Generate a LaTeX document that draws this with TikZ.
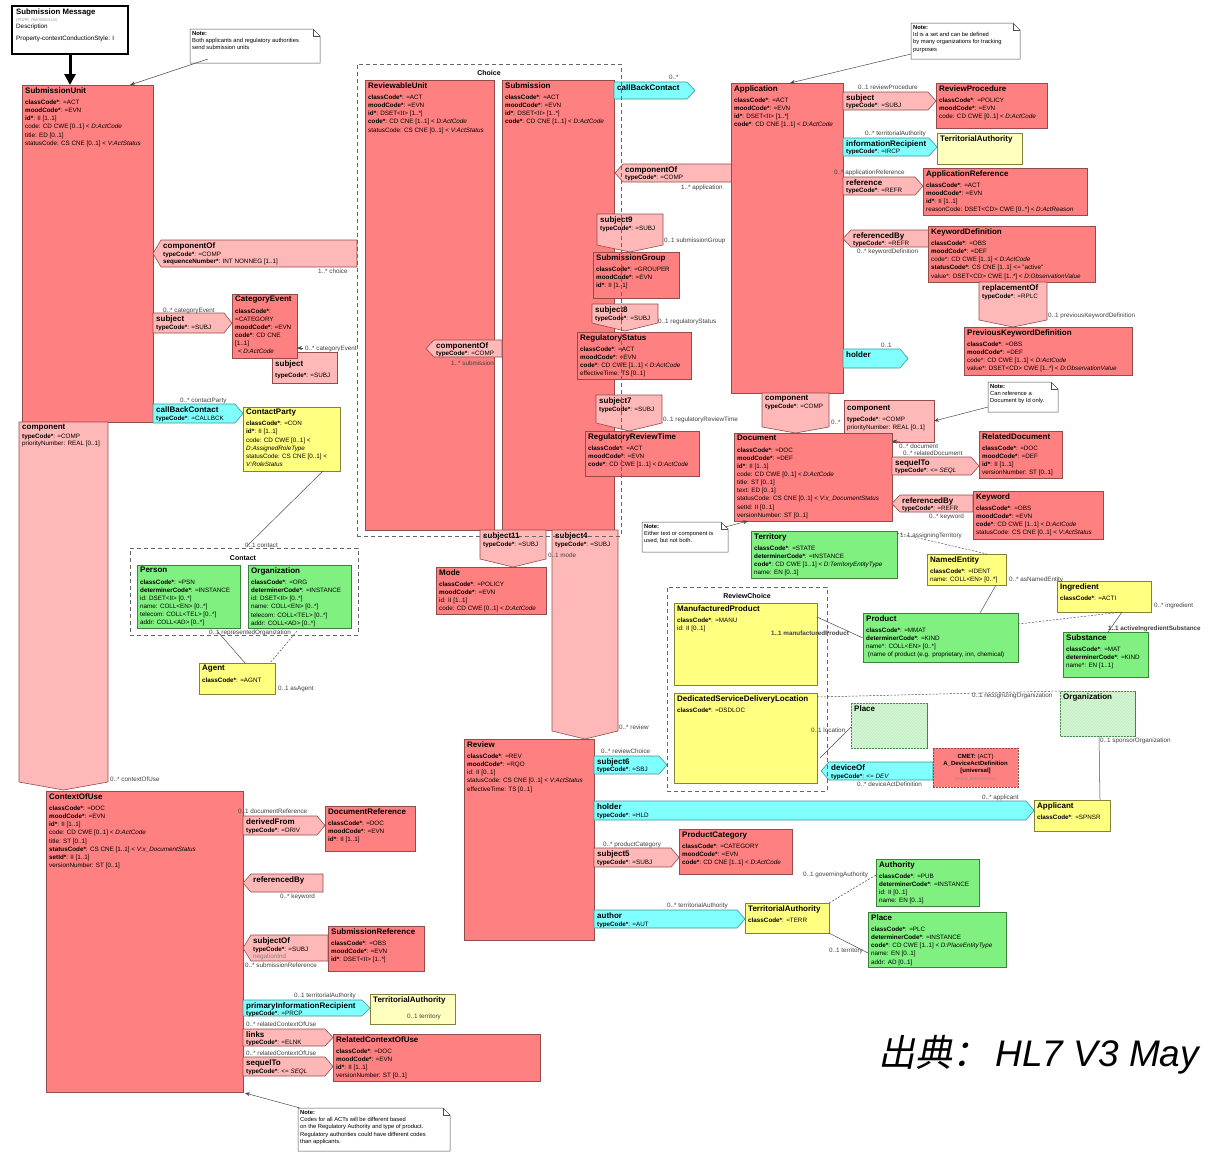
\documentclass[tikz,border=0pt]{standalone}
\usepackage{fontspec}
\setmainfont{Liberation Sans}
\newfontfamily\cjkf[FakeSlant=0.2]{Noto Sans CJK SC}
\usetikzlibrary{calc,arrows.meta,patterns}
\definecolor{actc}{RGB}{255,128,128}
\definecolor{actd}{RGB}{150,75,75}
\definecolor{relc}{RGB}{255,184,184}
\definecolor{parc}{RGB}{128,255,255}
\definecolor{pard}{RGB}{60,150,150}
\definecolor{rolc}{RGB}{255,255,128}
\definecolor{rold}{RGB}{130,130,60}
\definecolor{entc}{RGB}{128,240,128}
\definecolor{entd}{RGB}{60,130,60}
\definecolor{ltg}{RGB}{196,240,196}
\definecolor{lty}{RGB}{255,255,190}
\newcommand\Bb[1]{\textbf{#1}}
\newcommand\Ii[1]{\textit{#1}}
\newcommand\Tt[1]{{\fontsize{8}{8}\selectfont\bfseries #1}}
\newcommand\Gg[1]{{\color{black!50}#1}}
\tikzset{
 base/.style={inner sep=0pt, outer sep=0pt, anchor=north west},
 act/.style={base, fill=actc, draw=actd, line width=.6pt},
 rol/.style={base, fill=rolc, draw=rold, line width=.6pt},
 lrol/.style={base, fill=lty, draw=rold, line width=.6pt},
 ent/.style={base, fill=entc, draw=entd, line width=.6pt},
 hent/.style={base, fill=ltg, draw=entd, line width=.6pt, postaction={pattern=north east lines, pattern color=white!50!ltg}},
 relbox/.style={base, fill=relc, draw=actd, line width=.6pt},
 relp/.style={fill=relc, draw=actd, line width=.6pt},
 parp/.style={fill=parc, draw=pard, line width=.6pt},
 grp/.style={base, draw=black!60, line width=.8pt, dash pattern=on 4pt off 3pt},
 txt/.style={inner sep=0pt, anchor=north west, align=left, font=\fontsize{6.3}{8.1}\selectfont},
 rtxt/.style={inner sep=0pt, anchor=north west, align=left, font=\fontsize{6.3}{7.4}\selectfont},
 ntxt/.style={inner sep=0pt, anchor=north west, align=left, font=\fontsize{5.8}{7.3}\selectfont},
 lbl/.style={inner sep=0pt, anchor=base west, font=\fontsize{6.3}{7}\selectfont, text=black!75},
 gtitle/.style={inner sep=0pt, anchor=base, font=\fontsize{7}{8}\selectfont\bfseries},
 cnx/.style={draw=black!70, line width=.5pt},
 dcnx/.style={cnx, dash pattern=on 2pt off 1.5pt},
 ptr/.style={cnx, -{Stealth[length=5pt,width=4pt]}},
}
% box: [yoffset] name style x1 y1 x2 y2 text
\newcommand\bx[8][2]{%
 \node[#3, minimum width={(#6-#4)*1pt}, minimum height={(#7-#5)*1pt}] (#2) at (#4,#5) {};%
 \node[txt] (#2t) at ({#4+3},{#5+#1}) {#8};}
% right-pointing: name style x1 y1 x2 y2 text
\newcommand\rarr[7]{%
 \path[#2] (#3,#4) -- ({#5-8},#4) -- (#5,{(#4+#6)/2}) -- ({#5-8},#6) -- (#3,#6) -- cycle;%
 \node[rtxt] (#1) at ({#3+3},{#4+2}) {#7};}
\newcommand\larr[7]{%
 \path[#2] (#5,#4) -- ({#3+8},#4) -- (#3,{(#4+#6)/2}) -- ({#3+8},#6) -- (#5,#6) -- cycle;%
 \node[rtxt] (#1) at ({#3+10},{#4+2}) {#7};}
% down: name style x1 y1 x2 y2 ytip text
\newcommand\darr[8]{%
 \path[#2] (#3,#4) -- (#5,#4) -- (#5,#6) -- ({(#3+#5)/2},#7) -- (#3,#6) -- cycle;%
 \node[rtxt] (#1) at ({#3+3},{#4+2}) {#8};}
\newcommand\nte[6]{%
 \path[fill=white, draw=black!70, line width=.5pt] (#2,#3) -- ({#4-7},#3) -- (#4,{#3+7}) -- (#4,#5) -- (#2,#5) -- cycle;%
 \draw[black!70, line width=.5pt] ({#4-7},#3) -- ({#4-7},{#3+7}) -- (#4,{#3+7});%
 \node[base, minimum width={(#4-#2)*1pt}, minimum height={(#5-#3)*1pt}] (#1) at (#2,#3) {};%
 \node[ntxt] (#1t) at ({#2+2},{#3+2}) {#6};}
\newcounter{lbc}
\newcommand\lab[3]{\stepcounter{lbc}\node[lbl] (lb\arabic{lbc}) at (#1,#2) {#3};}
\begin{document}
\begin{tikzpicture}[x=1pt,y=-1pt]
\useasboundingbox (0,0) rectangle (1209,1152);
\fill[white] (0,0) rectangle (1209,1152);

% ---------- Submission message header
\node[base, draw=black, line width=1.8pt, fill=white, minimum width=116pt, minimum height=48pt] (msg) at (12,6) {};
\node[txt] (msgt) at (16,9) {{\fontsize{7.8}{9}\selectfont\bfseries Submission Message}\\[-1.5pt]{\fontsize{4}{5}\selectfont\color{black!40}(PORR\_RM000001UV)}\\[-1.5pt]Description\\[4pt]Property-contextConductionStyle: I};

\nte{n1}{190}{29}{320}{63}{\Bb{Note:}\\Both applicants and regulatory authorities\\send submission units}
\nte{n2}{911}{23}{1020}{59}{\Bb{Note:}\\Id is a set and can be defined\\by many organizations for tracking\\purposes}
\nte{n3}{988}{382}{1058}{412}{\Bb{Note:}\\Can reference a\\Document by Id only.}
\nte{n4}{642}{522}{728}{552}{\Bb{Note:}\\Either text or component is\\used, but not both.}
\nte{n5}{298}{1108}{450}{1151}{\Bb{Note:}\\Codes for all ACTs will be different based\\on the Regulatory Authority and type of product.\\Regulatory authorities could have different codes\\than applicants.}

% ---------- left column
\bx{su}{act}{22}{85}{153}{422}{\Tt{SubmissionUnit}\\[3.5pt]\Bb{classCode*}: =ACT\\\Bb{moodCode*}: =EVN\\\Bb{id*}: II [1..1]\\code: CD CWE [0..1] < \Ii{D:ActCode}\\title: ED [0..1]\\statusCode: CS CNE [0..1] < \Ii{V:ActStatus}}
\draw[line width=3pt, -{Triangle[length=11pt,width=11pt]}] ($(msg.south west)+(58,0)$) -- ($(su.north west)+(48,0)$);
\darr{rcomp0}{relp}{19}{422}{108}{782}{790}{\Tt{component}\\[1.5pt]\Bb{typeCode*}: =COMP\\priorityNumber: REAL [0..1]}
\larr{rcomp1}{relp}{153}{240}{357}{267}{\Tt{componentOf}\\[0.8pt]\Bb{typeCode*}: =COMP\\\Bb{sequenceNumber*}: INT NONNEG [1..1]}
\rarr{rsubj1}{relp}{153}{313}{232}{333}{\Tt{subject}\\[0.8pt]\Bb{typeCode*}: =SUBJ}
\bx[8]{rsubj2}{relbox}{272}{352}{337}{383}{\Tt{subject}\\[3pt]\Bb{typeCode*}: =SUBJ}
\bx{ce}{act}{232}{294}{297}{358}{\Tt{CategoryEvent}\\[3.5pt]\Bb{classCode*}:\\=CATEGORY\\\Bb{moodCode*}: =EVN\\\Bb{code*}: CD CNE\\{}[1..1]\\\ \,< \Ii{D:ActCode}}
\draw[ptr] ($(rsubj2.north west)+(31,-4)$) -- ($(ce.south east)+(0,-10)$);
\rarr{rcbc1}{parp}{153}{404}{243}{423}{\Tt{callBackContact}\\[0.8pt]\Bb{typeCode*}: =CALLBCK}
\bx{cp}{rol}{243}{407}{340}{471}{\Tt{ContactParty}\\[3pt]\Bb{classCode*}: =CON\\\Bb{id*}: II [1..1]\\code: CD CWE [0..1] <\\\Ii{D:AssignedRoleType}\\statusCode: CS CNE [0..1] <\\\Ii{V:RoleStatus}}
\bx{person}{ent}{137}{565}{240}{628}{\Tt{Person}\\[3.5pt]\Bb{classCode*}: =PSN\\\Bb{determinerCode*}: =INSTANCE\\id: DSET<II> [0..*]\\name: COLL<EN> [0..*]\\telecom: COLL<TEL> [0..*]\\addr: COLL<AD> [0..*]}
\bx{org}{ent}{248}{565}{351}{628}{\Tt{Organization}\\[3.5pt]\Bb{classCode*}: =ORG\\\Bb{determinerCode*}: =INSTANCE\\id: DSET<II> [0..*]\\name: COLL<EN> [0..*]\\telecom: COLL<TEL> [0..*]\\addr: COLL<AD> [0..*]}
\bx{agent}{rol}{199}{663}{275}{694}{\Tt{Agent}\\[3.5pt]\Bb{classCode*}: =AGNT}

\bx{ctx}{act}{46}{791}{243}{1092}{\Tt{ContextOfUse}\\[3.5pt]\Bb{classCode*}: =DOC\\\Bb{moodCode*}: =EVN\\\Bb{id*}: II [1..1]\\code: CD CWE [0..1] < \Ii{D:ActCode}\\title: ST [0..1]\\\Bb{statusCode*}: CS CNE [1..1] < \Ii{V:x\_DocumentStatus}\\\Bb{setId*}: II [1..1]\\versionNumber: ST [0..1]}
\rarr{rderiv}{relp}{243}{816}{325}{835}{\Tt{derivedFrom}\\[0.8pt]\Bb{typeCode*}: =DRIV}
\bx{docref}{act}{325}{806}{415}{851}{\Tt{DocumentReference}\\[3.5pt]\Bb{classCode*}: =DOC\\\Bb{moodCode*}: =EVN\\\Bb{id*}: II [1..1]}
\larr{rrefby1}{relp}{243}{874}{323}{892}{\Tt{referencedBy}}
\larr{rsubjof}{relp}{243}{935}{328}{961}{\Tt{subjectOf}\\[0.8pt]\Bb{typeCode*}: =SUBJ\\\Gg{negationInd}}
\bx{subref}{act}{328}{926}{424}{971}{\Tt{SubmissionReference}\\[3.5pt]\Bb{classCode*}: =OBS\\\Bb{moodCode*}: =EVN\\\Bb{id*}: DSET<II> [1..*]}
\rarr{rpir}{parp}{243}{1000}{370}{1016}{\Tt{primaryInformationRecipient}\\[0.3pt]\Bb{typeCode*}: =PRCP}
\bx{ta3}{lrol}{370}{994}{455}{1024}{\Tt{TerritorialAuthority}}
\rarr{rlinks}{relp}{243}{1029}{333}{1046}{\Tt{links}\\[0.3pt]\Bb{typeCode*}: =ELNK}
\rarr{rseq2}{relp}{243}{1057}{333}{1076}{\Tt{sequelTo}\\[0.8pt]\Bb{typeCode*}: <= \Ii{SEQL}}
\bx{relctx}{act}{333}{1034}{540}{1081}{\Tt{RelatedContextOfUse}\\[3.5pt]\Bb{classCode*}: =DOC\\\Bb{moodCode*}: =EVN\\\Bb{id*}: II [1..1]\\versionNumber: ST [0..1]}

% ---------- Choice
\bx{revu}{act}{365}{80}{494}{530}{\Tt{ReviewableUnit}\\[3.5pt]\Bb{classCode*}: =ACT\\\Bb{moodCode*}: =EVN\\\Bb{id*}: DSET<II> [1..*]\\\Bb{code*}: CD CNE [1..1] < \Ii{D:ActCode}\\statusCode: CS CNE [0..1] < \Ii{V:ActStatus}}
\bx{subm}{act}{502}{80}{614}{530}{\Tt{Submission}\\[3.5pt]\Bb{classCode*}: =ACT\\\Bb{moodCode*}: =EVN\\\Bb{id*}: DSET<II> [1..*]\\\Bb{code*}: CD CNE [1..1] < \Ii{D:ActCode}}
\larr{rcomp2}{relp}{426}{340}{502}{357}{\Tt{componentOf}\\[0.3pt]\Bb{typeCode*}: =COMP}
\rarr{rcbc2}{parp}{614}{82}{695}{99}{\Tt{callBackContact}}
\larr{rcomp3}{relp}{615}{164}{732}{182}{\Tt{componentOf}\\[0.3pt]\Bb{typeCode*}: =COMP}
\darr{rs9}{relp}{597}{214}{663}{245}{252}{\Tt{subject9}\\[0.8pt]\Bb{typeCode*}: =SUBJ}
\bx{subgrp}{act}{593}{252}{679}{298}{\Tt{SubmissionGroup}\\[3.5pt]\Bb{classCode*}: =GROUPER\\\Bb{moodCode*}: =EVN\\\Bb{id*}: II [1..1]}
\darr{rs8}{relp}{592}{304}{658}{323}{331}{\Tt{subject8}\\[0.8pt]\Bb{typeCode*}: =SUBJ}
\bx{regst}{act}{577}{332}{691}{379}{\Tt{RegulatoryStatus}\\[3.5pt]\Bb{classCode*}: =ACT\\\Bb{moodCode*}: =EVN\\\Bb{code*}: CD CWE [1..1] < \Ii{D:ActCode}\\effectiveTime: TS [0..1]}
\darr{rs7}{relp}{596}{395}{662}{423}{431}{\Tt{subject7}\\[0.8pt]\Bb{typeCode*}: =SUBJ}
\bx{regrt}{act}{585}{431}{699}{476}{\Tt{RegulatoryReviewTime}\\[3.5pt]\Bb{classCode*}: =ACT\\\Bb{moodCode*}: =EVN\\\Bb{code*}: CD CWE [1..1] < \Ii{D:ActCode}}
\darr{rs11}{relp}{480}{530}{546}{559}{567}{\Tt{subject11}\\[0.8pt]\Bb{typeCode*}: =SUBJ}
\bx{mode}{act}{436}{567}{546}{614}{\Tt{Mode}\\[3.5pt]\Bb{classCode*}: =POLICY\\\Bb{moodCode*}: =EVN\\id: II [1..1]\\code: CD CWE [0..1] < \Ii{D:ActCode}}
\darr{rs4}{relp}{552}{530}{618}{731}{739}{\Tt{subject4}\\[0.8pt]\Bb{typeCode*}: =SUBJ}

% ---------- Review
\bx{review}{act}{464}{739}{594}{940}{\Tt{Review}\\[3.5pt]\Bb{classCode*}: =REV\\\Bb{moodCode*}: =RQO\\id: II [0..1]\\statusCode: CS CNE [0..1] < \Ii{V:ActStatus}\\effectiveTime: TS [0..1]}
\rarr{rs6}{parp}{594}{756}{667}{774}{\Tt{subject6}\\[0.3pt]\Bb{typeCode*}: =SBJ}
\rarr{rhold2}{parp}{594}{801}{1034}{820}{\Tt{holder}\\[0.8pt]\Bb{typeCode*}: =HLD}
\rarr{rs5}{relp}{594}{848}{679}{867}{\Tt{subject5}\\[0.8pt]\Bb{typeCode*}: =SUBJ}
\bx{prodcat}{act}{679}{829}{792}{874}{\Tt{ProductCategory}\\[3.5pt]\Bb{classCode*}: =CATEGORY\\\Bb{moodCode*}: =EVN\\\Bb{code*}: CD CNE [1..1] < \Ii{D:ActCode}}
\rarr{rauth}{parp}{594}{910}{745}{928}{\Tt{author}\\[0.8pt]\Bb{typeCode*}: =AUT}
\bx{ta2}{rol}{745}{903}{829}{933}{\Tt{TerritorialAuthority}\\[3.5pt]\Bb{classCode*}: =TERR}
\bx{auth}{ent}{876}{859}{979}{906}{\Tt{Authority}\\[3.5pt]\Bb{classCode*}: =PUB\\\Bb{determinerCode*}: =INSTANCE\\id: II [0..1]\\name: EN [0..1]}
\bx{place}{ent}{868}{912}{1006}{967}{\Tt{Place}\\[3.5pt]\Bb{classCode*}: =PLC\\\Bb{determinerCode*}: =INSTANCE\\\Bb{code*}: CD CWE [1..1] < \Ii{D:PlaceEntityType}\\name: EN [0..1]\\addr: AD [0..1]}
\bx{appl}{rol}{1034}{800}{1110}{831}{\Tt{Applicant}\\[3.5pt]\Bb{classCode*}: =SPNSR}

% ---------- ReviewChoice
\bx{mp}{rol}{674}{603}{817}{685}{\Tt{ManufacturedProduct}\\[3.5pt]\Bb{classCode*}: =MANU\\id: II [0..1]}
\bx{dsdl}{rol}{674}{693}{817}{783}{\Tt{DedicatedServiceDeliveryLocation}\\[3.5pt]\Bb{classCode*}: =DSDLOC}
\bx{place2}{hent}{851}{703}{927}{748}{\Tt{Place}}
\bx{org2}{hent}{1060}{691}{1135}{736}{\Tt{Organization}}
\larr{rdev}{parp}{821}{762}{933}{780}{\Tt{deviceOf}\\[0.8pt]\Bb{typeCode*}: <= \Ii{DEV}}
\node[base, fill=actc, draw=actd, line width=.8pt, dash pattern=on 2pt off 1pt, minimum width=85pt, minimum height=39pt] (cmet) at (933,748) {};
\node[inner sep=0pt, align=center, font=\fontsize{6}{7.4}\selectfont] (cmett) at (cmet.center) {\Bb{CMET:} (ACT)\\\Bb{A\_DeviceActDefinition}\\\Bb{[universal]}\\{\fontsize{4}{5}\selectfont\color{black!45}(POCP\_MT010000UV)}};
\bx{prod}{ent}{863}{613}{1018}{662}{\Tt{Product}\\[3.5pt]\Bb{classCode*}: =MMAT\\\Bb{determinerCode*}: =KIND\\name*: COLL<EN> [0..*]\\\ (name of product (e.g. proprietary, inn, chemical)}
\bx{ne}{rol}{927}{554}{1006}{585}{\Tt{NamedEntity}\\[3.5pt]\Bb{classCode*}: =IDENT\\name: COLL<EN> [0..*]}
\bx{ingr}{rol}{1057}{581}{1151}{612}{\Tt{Ingredient}\\[3.5pt]\Bb{classCode*}: =ACTI}
\bx{subst}{ent}{1063}{632}{1148}{677}{\Tt{Substance}\\[3.5pt]\Bb{classCode*}: =MAT\\\Bb{determinerCode*}: =KIND\\name*: EN [1..1]}
\bx{terr}{ent}{751}{531}{897}{578}{\Tt{Territory}\\[3.5pt]\Bb{classCode*}: =STATE\\\Bb{determinerCode*}: =INSTANCE\\\Bb{code*}: CD CWE [1..1] < \Ii{D:TerritoryEntityType}\\name: EN [0..1]}

% ---------- Application column
\bx{app}{act}{731}{83}{843}{393}{\Tt{Application}\\[3.5pt]\Bb{classCode*}: =ACT\\\Bb{moodCode*}: =EVN\\\Bb{id*}: DSET<II> [1..*]\\\Bb{code*}: CD CNE [1..1] < \Ii{D:ActCode}}
\rarr{rsubj3}{relp}{843}{92}{936}{110}{\Tt{subject}\\[0.3pt]\Bb{typeCode*}: =SUBJ}
\bx{revproc}{act}{936}{83}{1047}{128}{\Tt{ReviewProcedure}\\[3.5pt]\Bb{classCode*}: =POLICY\\\Bb{moodCode*}: =EVN\\code: CD CWE [0..1] < \Ii{D:ActCode}}
\rarr{rinfo}{parp}{843}{138}{937}{156}{\Tt{informationRecipient}\\[0.3pt]\Bb{typeCode*}: =IRCP}
\bx{ta1}{lrol}{937}{133}{1022}{164}{\Tt{TerritorialAuthority}}
\rarr{rref}{relp}{843}{177}{923}{195}{\Tt{reference}\\[0.3pt]\Bb{typeCode*}: =REFR}
\bx{appref}{act}{923}{168}{1087}{215}{\Tt{ApplicationReference}\\[3.5pt]\Bb{classCode*}: =ACT\\\Bb{moodCode*}: =EVN\\\Bb{id*}: II [1..1]\\reasonCode: DSET<CD> CWE [0..*] < \Ii{D:ActReason}}
\larr{rrefby2}{relp}{843}{230}{929}{247}{\Tt{referencedBy}\\[0.3pt]\Bb{typeCode*}: =REFR}
\bx{kwdef}{act}{928}{226}{1095}{282}{\Tt{KeywordDefinition}\\[3.5pt]\Bb{classCode*}: =OBS\\\Bb{moodCode*}: =DEF\\code*: CD CWE [1..1] < \Ii{D:ActCode}\\\Bb{statusCode*}: CS CNE [1..1] <= "active"\\value*: DSET<CD> CWE [1..*] < \Ii{D:ObservationValue}}
\darr{rrepl}{relp}{979}{282}{1047}{320}{327}{\Tt{replacementOf}\\[0.8pt]\Bb{typeCode*}: =RPLC}
\bx{prevkw}{act}{964}{327}{1132}{375}{\Tt{PreviousKeywordDefinition}\\[3.5pt]\Bb{classCode*}: =OBS\\\Bb{moodCode*}: =DEF\\code*: CD CWE [1..1] < \Ii{D:ActCode}\\value*: DSET<CD> CWE [1..*] < \Ii{D:ObservationValue}}
\rarr{rhold1}{parp}{843}{349}{908}{368}{\Tt{holder}}
\darr{rcomp4}{relp}{762}{393}{829}{427}{433}{\Tt{component}\\[0.8pt]\Bb{typeCode*}: =COMP}
\bx[5]{compbox}{relbox}{844}{400}{934}{442}{\Tt{component}\\[3pt]\Bb{typeCode*}: =COMP\\priorityNumber: REAL [0..1]}
\bx{doc}{act}{734}{433}{892}{521}{\Tt{Document}\\[3.5pt]\Bb{classCode*}: =DOC\\\Bb{moodCode*}: =DEF\\\Bb{id*}: II [1..1]\\code: CD CWE [0..1] < \Ii{D:ActCode}\\title: ST [0..1]\\text: ED [0..1]\\statusCode: CS CNE [0..1] < \Ii{V:x\_DocumentStatus}\\setId: II [0..1]\\versionNumber: ST [0..1]}
\rarr{rseq1}{relp}{892}{457}{979}{475}{\Tt{sequelTo}\\[0.3pt]\Bb{typeCode*}: <= \Ii{SEQL}}
\bx{reldoc}{act}{979}{431}{1062}{478}{\Tt{RelatedDocument}\\[3.5pt]\Bb{classCode*}: =DOC\\\Bb{moodCode*}: =DEF\\\Bb{id*}: II [1..1]\\versionNumber: ST [0..1]}
\larr{rrefby3}{relp}{892}{495}{973}{512}{\Tt{referencedBy}\\[0.3pt]\Bb{typeCode*}: =REFR}
\bx{kw}{act}{973}{491}{1103}{539}{\Tt{Keyword}\\[3.5pt]\Bb{classCode*}: =OBS\\\Bb{moodCode*}: =EVN\\\Bb{code*}: CD CWE [1..1] < \Ii{D:ActCode}\\statusCode: CS CNE [0..1] < \Ii{V:ActStatus}}

% ---------- groups
\node[grp, minimum width=264pt, minimum height=472pt] (choice) at (357,64) {};
\node[gtitle] (choicet) at (489,75) {Choice};
\node[grp, minimum width=228pt, minimum height=87pt] (contact) at (130,548) {};
\node[gtitle] (contactt) at (243,560) {Contact};
\node[grp, minimum width=160pt, minimum height=204pt] (rchoice) at (667,587) {};
\node[gtitle] (rchoicet) at (747,598) {ReviewChoice};

% ---------- connectors
\draw[ptr] ($(n1.south west)+(18,-4)$) -- ($(su.north west)+(108,0)$);
\draw[ptr] ($(n2.south west)+(0,-5)$) -- ($(app.north west)+(59,0)$);
\draw[ptr] ($(n3.south west)+(0,-5)$) -- (compbox.east);
\draw[ptr] ($(n4.north east)+(-3,5)$) -- ($(doc.south west)+(14,0)$);
\draw[ptr] ($(n5.north west)+(2,0)$) -- ($(ctx.south east)+(2,1)$);
\draw[ptr] ($(compbox.south west)+(56,0)$) -- ($(doc.north east)+(0,8)$);
\draw[cnx] ($(cp.south east)+(-17,0)$) -- ($(contact.north west)+(117,-2)$);
\draw[cnx] ($(contact.south west)+(88,-3)$) -- ($(agent.north west)+(46,0)$);
\draw[dcnx] ($(org.south west)+(49,3)$) -- ($(agent.north west)+(71,0)$);
\draw[dcnx] ($(terr.north east)+(0,2)$) -- ($(ne.north west)+(60,0)$);
\draw[cnx] ($(ne.south west)+(69,0)$) -- ($(prod.north west)+(117,0)$);
\draw[dcnx] ($(prod.north east)+(0,11)$) -- ($(ingr.south west)+(65,0)$);
\draw[cnx] ($(ingr.south west)+(65,0)$) -- ($(subst.north west)+(45,0)$);
\draw[cnx] ($(mp.north east)+(0,14)$) -- ($(prod.north west)+(0,25)$);
\draw[dcnx] ($(dsdl.north east)+(0,4)$) -- (org2.north west);
\draw[cnx] ($(dsdl.south east)+(3,-25)$) -- ($(place2.south west)+(0,-21)$);
\draw[cnx] ($(org2.south west)+(39,0)$) -- ($(appl.north west)+(66,0)$);
\draw[dcnx] (ta2.north east) -- ($(auth.north west)+(0,16)$);
\draw[cnx] (ta2.south east) -- ($(place.north west)+(0,41)$);

% ---------- labels
\lab{318}{273}{1..* choice}
\lab{163}{312}{0..* categoryEvent}
\lab{305}{350}{0..* categoryEvent}
\lab{180}{402}{0..* contactParty}
\lab{245}{547}{0..1 contact}
\lab{209}{634}{0..1 representedOrganization}
\lab{278}{690}{0..1 asAgent}
\lab{110}{781}{0..* contextOfUse}
\lab{238}{813}{0..1 documentReference}
\lab{280}{898}{0..* keyword}
\lab{245}{967}{0..* submissionReference}
\lab{294}{997}{0..1 territorialAuthority}
\lab{407}{1018}{0..1 territory}
\lab{246}{1026}{0..* relatedContextOfUse}
\lab{246}{1055}{0..* relatedContextOfUse}
\lab{669}{79}{0..*}
\lab{681}{189}{1..* application}
\lab{664}{242}{0..1 submissionGroup}
\lab{658}{323}{0..1 regulatoryStatus}
\lab{451}{365}{1..* submission}
\lab{858}{89}{0..1 reviewProcedure}
\lab{865}{135}{0..* territorialAuthority}
\lab{834}{174}{0..* applicationReference}
\lab{857}{253}{0..* keywordDefinition}
\lab{1048}{317}{0..1 previousKeywordDefinition}
\lab{881}{347}{0..1}
\lab{663}{421}{0..1 regulatoryReviewTime}
\lab{548}{557}{0..1 mode}
\lab{619}{729}{0..* review}
\lab{601}{753}{0..* reviewChoice}
\lab{831}{424}{0..*}
\lab{899}{448}{0..* document}
\lab{903}{455}{0..* relatedDocument}
\lab{929}{518}{0..* keyword}
\lab{900}{537}{1..1 assigningTerritory}
\lab{1009}{581}{0..* asNamedEntity}
\lab{1154}{607}{0..* ingredient}
\lab{1108}{630}{\Bb{1..1 activeIngredientSubstance}}
\lab{771}{635}{\Bb{1..1 manufacturedProduct}}
\lab{972}{697}{0..1 recognizingOrganization}
\lab{811}{732}{0..1 location}
\lab{1100}{742}{0..1 sponsorOrganization}
\lab{857}{786}{0..* deviceActDefinition}
\lab{982}{799}{0..* applicant}
\lab{603}{846}{0..* productCategory}
\lab{667}{907}{0..* territorialAuthority}
\lab{803}{876}{0..1 governingAuthority}
\lab{829}{952}{0..1 territory}

% ---------- source
\node[inner sep=0pt, anchor=base west] (src) at (878,1066) {\fontsize{37}{40}\selectfont{\cjkf 出典：}\,\itshape HL7 V3 May};
\end{tikzpicture}
\end{document}
